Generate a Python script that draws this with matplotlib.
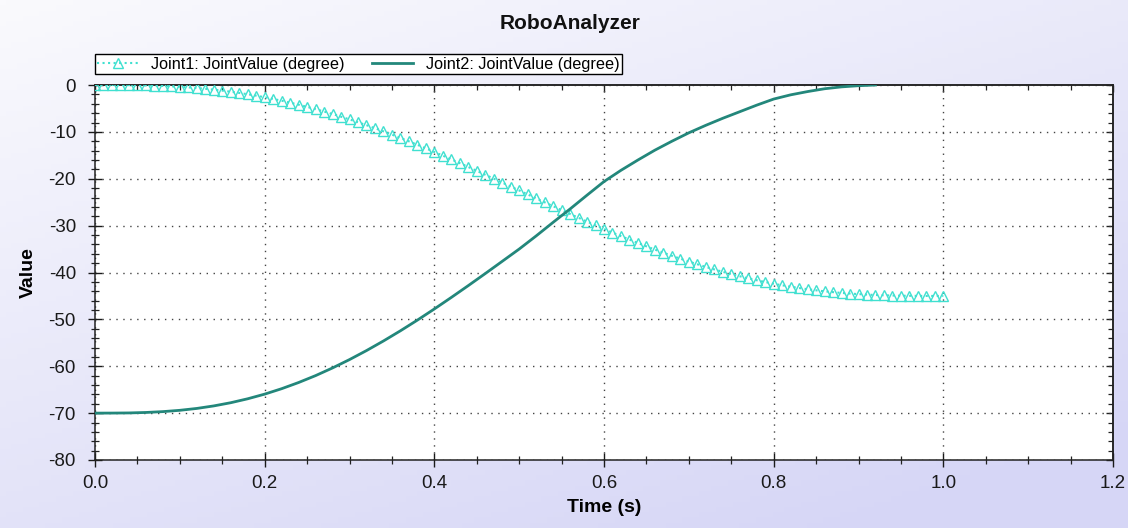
import matplotlib
matplotlib.use("Agg")
import matplotlib.pyplot as plt
import numpy as np
from matplotlib.ticker import MultipleLocator, NullFormatter

plt.rcParams['font.family'] = ['Liberation Sans', 'DejaVu Sans']
plt.rcParams['axes.unicode_minus'] = False

# Joint1: tiempos (s) y valores (grados)
t_joint1 = [0.00, 0.01, 0.02, 0.03, 0.04, 0.05, 0.06, 0.07, 0.08, 0.09,
            0.10, 0.11, 0.12, 0.13, 0.14, 0.15, 0.16, 0.17, 0.18, 0.19,
            0.20, 0.21, 0.22, 0.23, 0.24, 0.25, 0.26, 0.27, 0.28, 0.29,
            0.30, 0.31, 0.32, 0.33, 0.34, 0.35, 0.36, 0.37, 0.38, 0.39,
            0.40, 0.41, 0.42, 0.43, 0.44, 0.45, 0.46, 0.47, 0.48, 0.49,
            0.50, 0.51, 0.52, 0.53, 0.54, 0.55, 0.56, 0.57, 0.58, 0.59,
            0.60, 0.61, 0.62, 0.63, 0.64, 0.65, 0.66, 0.67, 0.68, 0.69,
            0.70, 0.71, 0.72, 0.73, 0.74, 0.75, 0.76, 0.77, 0.78, 0.79,
            0.80, 0.81, 0.82, 0.83, 0.84, 0.85, 0.86, 0.87, 0.88, 0.89,
            0.90, 0.91, 0.92, 0.93, 0.94, 0.95, 0.96, 0.97, 0.98, 0.99,
            1.00]
joint1 = [0.00, -0.00, -0.00, -0.01, -0.03, -0.05, -0.09, -0.14, -0.20, -0.29,
          -0.39, -0.51, -0.64, -0.81, -0.99, -1.20, -1.43, -1.69, -1.97, -2.27,
          -2.61, -2.97, -3.35, -3.76, -4.20, -4.66, -5.15, -5.66, -6.19, -6.76,
          -7.34, -7.95, -8.57, -9.22, -9.89, -10.58, -11.29, -12.02, -12.76, -13.51,
          -14.29, -15.07, -15.86, -16.67, -17.49, -18.31, -19.14, -19.98, -20.81, -21.66,
          -22.50, -23.34, -24.19, -25.02, -25.86, -26.69, -27.51, -28.33, -29.14, -29.93,
          -30.71, -31.49, -32.24, -32.98, -33.71, -34.42, -35.11, -35.78, -36.43, -37.05,
          -37.66, -38.24, -38.81, -39.34, -39.85, -40.34, -40.80, -41.24, -41.65, -42.03,
          -42.39, -42.73, -43.03, -43.31, -43.57, -43.80, -44.01, -44.19, -44.36, -44.49,
          -44.61, -44.71, -44.80, -44.86, -44.91, -44.95, -44.97, -44.99, -45.00, -45.00,
          -45.00]

# Joint2
t_joint2 = [0.00, 0.02, 0.04, 0.06, 0.08, 0.10, 0.12, 0.14, 0.16, 0.18,
            0.20, 0.22, 0.24, 0.26, 0.28, 0.30, 0.32, 0.34, 0.36, 0.38,
            0.40, 0.42, 0.44, 0.46, 0.48, 0.50, 0.52, 0.54, 0.56, 0.58,
            0.60, 0.62, 0.64, 0.66, 0.68, 0.70, 0.72, 0.74, 0.76, 0.78,
            0.80, 0.82, 0.84, 0.86, 0.88, 0.90, 0.92]
joint2 = [-70.00, -69.99, -69.96, -69.86, -69.68, -69.40, -69.00, -68.46, -67.78, -66.94,
          -65.95, -64.79, -63.47, -62.00, -60.36, -58.58, -56.66, -54.61, -52.44, -50.16,
          -47.78, -45.32, -42.80, -40.23, -37.62, -35.00, -32.20, -29.30, -26.45, -23.50,
          -20.60, -18.20, -16.00, -13.90, -12.00, -10.20, -8.60, -7.10, -5.70, -4.30,
          -3.00, -2.10, -1.40, -0.80, -0.40, -0.15, 0.00]

fig = plt.figure(figsize=(11.28, 5.28), dpi=100)

# Fondo degradado (blanco arriba-izquierda, lavanda abajo-derecha)
bg = fig.add_axes([0, 0, 1, 1], zorder=-10)
gx, gy = np.meshgrid(np.linspace(0, 1, 200), np.linspace(0, 1, 100))
w = np.clip(0.65 * gy + 0.45 * gx, 0, 1)[..., None]
c0 = np.array([250, 250, 253]) / 255
c1 = np.array([214, 214, 246]) / 255
bg.imshow(c0 * (1 - w) + c1 * w, aspect='auto', extent=[0, 1, 0, 1], origin='upper')
bg.axis('off')

ax = fig.add_axes([95 / 1128, 1 - 460 / 528, 1018 / 1128, 375 / 528])
ax.set_facecolor('white')

ax.plot(t_joint1, joint1, color='#40E0D0', linestyle=':', linewidth=1.5,
        marker='^', markersize=7.5, markerfacecolor='none', markeredgewidth=1.0,
        label='Joint1: JointValue (degree)', zorder=3)
ax.plot(t_joint2, joint2, color='#23877B', linewidth=2.0,
        label='Joint2: JointValue (degree)', zorder=4)

ax.set_xlim(0, 1.2)
ax.set_ylim(-80, 0)
ax.xaxis.set_major_locator(MultipleLocator(0.2))
ax.xaxis.set_minor_locator(MultipleLocator(0.05))
ax.yaxis.set_major_locator(MultipleLocator(10))
ax.yaxis.set_minor_locator(MultipleLocator(2))

ax.tick_params(which='major', direction='inout', length=9.5, width=1.0,
               labelsize=13.5, colors='#1a1a1a')
ax.tick_params(which='minor', direction='inout', length=6, width=0.9, color='#222222')
ax.tick_params(axis='y', which='major', pad=9)
ax.tick_params(axis='x', which='major', pad=6)

# ticks hacia adentro arriba y a la derecha
secx = ax.secondary_xaxis('top')
secx.xaxis.set_major_locator(MultipleLocator(0.2))
secx.xaxis.set_minor_locator(MultipleLocator(0.05))
secx.xaxis.set_major_formatter(NullFormatter())
secx.tick_params(which='major', direction='in', length=5, width=1.0, color='#222222')
secx.tick_params(which='minor', direction='in', length=3.5, width=0.9, color='#222222')
secy = ax.secondary_yaxis('right')
secy.yaxis.set_major_locator(MultipleLocator(10))
secy.yaxis.set_minor_locator(MultipleLocator(2))
secy.yaxis.set_major_formatter(NullFormatter())
secy.tick_params(which='major', direction='in', length=5, width=1.0, color='#222222')
secy.tick_params(which='minor', direction='in', length=3.5, width=0.9, color='#222222')

for s in list(ax.spines.values()) + list(secx.spines.values()) + list(secy.spines.values()):
    s.set_linewidth(1.1)
    s.set_color('#222222')

ax.grid(True, which='major', linestyle=(0, (1, 4)), linewidth=1.0, color='#444444')

ax.set_xlabel('Time (s)', fontsize=14, fontweight='bold')
ax.set_ylabel('Value', fontsize=14, fontweight='bold')
ax.xaxis.set_label_coords(0.5, -0.105)
ax.yaxis.set_label_coords(-0.057, 0.5)

fig.text(570 / 1128, 1 - 29 / 528, 'RoboAnalyzer', ha='center', va='baseline',
         fontsize=15, fontweight='bold', color='#111111')

leg = ax.legend(loc='lower left', bbox_to_anchor=(95 / 1128, 1 - 74 / 528),
                bbox_transform=fig.transFigure, ncol=2, fontsize=11.7,
                frameon=True, fancybox=False, edgecolor='black', facecolor='white',
                framealpha=1, borderpad=0.15, borderaxespad=0, handlelength=2.5,
                handletextpad=0.8, columnspacing=1.7)
leg.get_frame().set_linewidth(1.0)

fig.savefig('out.png', dpi=100)
